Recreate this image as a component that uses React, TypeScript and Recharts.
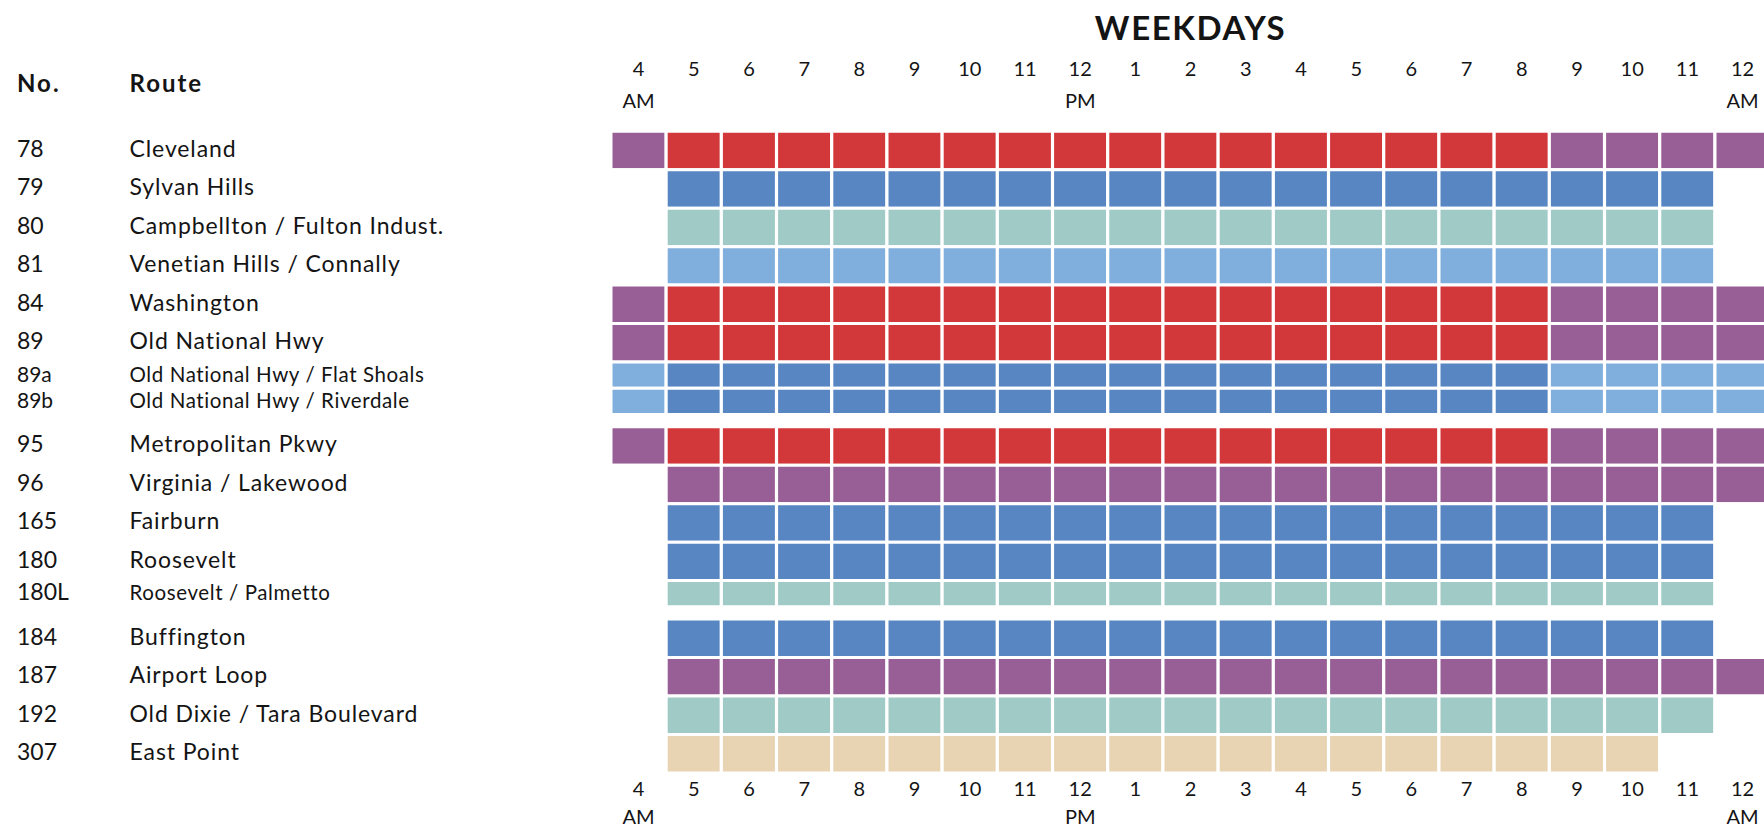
import React from 'react';
import { BarChart, Bar, XAxis, YAxis, Cell } from 'recharts';

// hour slots across the top / bottom, 4 AM to 12 AM
const hours = ['4', '5', '6', '7', '8', '9', '10', '11', '12', '1', '2', '3', '4', '5', '6', '7', '8', '9', '10', '11', '12'];
const periods = ['AM', '', '', '', '', '', '', '', 'PM', '', '', '', '', '', '', '', '', '', '', '', 'AM'];

const routeNumbers = ['78', '79', '80', '81', '84', '89', '89a', '89b', '95', '96', '165', '180', '180L', '184', '187', '192', '307'];
const routeNames = [
  'Cleveland',
  'Sylvan Hills',
  'Campbellton / Fulton Indust.',
  'Venetian Hills / Connally',
  'Washington',
  'Old National Hwy',
  'Old National Hwy / Flat Shoals',
  'Old National Hwy / Riverdale',
  'Metropolitan Pkwy',
  'Virginia / Lakewood',
  'Fairburn',
  'Roosevelt',
  'Roosevelt / Palmetto',
  'Buffington',
  'Airport Loop',
  'Old Dixie / Tara Boulevard',
  'East Point',
];

// service level for each hour slot, one letter per slot ('.' = no service)
const service = [
  'PRRRRRRRRRRRRRRRRPPPP',
  '.BBBBBBBBBBBBBBBBBBB.',
  '.TTTTTTTTTTTTTTTTTTT.',
  '.LLLLLLLLLLLLLLLLLLL.',
  'PRRRRRRRRRRRRRRRRPPPP',
  'PRRRRRRRRRRRRRRRRPPPP',
  'LBBBBBBBBBBBBBBBBLLLL',
  'LBBBBBBBBBBBBBBBBLLLL',
  'PRRRRRRRRRRRRRRRRPPPP',
  '.PPPPPPPPPPPPPPPPPPPP',
  '.BBBBBBBBBBBBBBBBBBB.',
  '.BBBBBBBBBBBBBBBBBBB.',
  '.TTTTTTTTTTTTTTTTTTT.',
  '.BBBBBBBBBBBBBBBBBBB.',
  '.PPPPPPPPPPPPPPPPPPPP',
  '.TTTTTTTTTTTTTTTTTTT.',
  '.SSSSSSSSSSSSSSSSSS..',
];

const levelColors: Record<string, string> = {
  R: '#D2373A',
  P: '#985F96',
  B: '#5786C3',
  L: '#80AEDD',
  T: '#A0CAC5',
  S: '#E8D3B3',
};

// layout: sub-routes get a thinner row, some rows have extra space after them
const thinRows = ['89a', '89b', '180L'];
const smallNumbers = ['89a', '89b'];
const spaceAfter = ['89b', '180L'];
const THIN = 0.68;
const SPACER = 0.32;

const W = 1764;
const H = 828;
const PLOT_LEFT = 611;
const TOP_AXIS = 131.2;
const BOTTOM_AXIS = 55;
const FONT = 'Lato, "Open Sans", sans-serif';
const INK = '#141414';

type Seg = { key: string; route: number; size: number; center: number };

const segments: Seg[] = [];
let acc = 0;
routeNumbers.forEach((no, i) => {
  const size = thinRows.includes(no) ? THIN : 1;
  segments.push({ key: `r${i}`, route: i, size, center: acc + size / 2 });
  acc += size;
  if (spaceAfter.includes(no)) {
    segments.push({ key: `gap${i}`, route: -1, size: SPACER, center: acc + SPACER / 2 });
    acc += SPACER;
  }
});
const TOTAL = acc;
const routeSegs = segments.filter((s) => s.route >= 0);

const data = hours.map((_, slot) => {
  const row: Record<string, number> = { slot };
  segments.forEach((s) => {
    row[s.key] = s.size;
  });
  return row;
});

const HourTick = (props: any) => {
  const { x, y, payload, top } = props;
  const i = payload.index ?? payload.value;
  const numY = top ? y - 55.5 : y + 22.7;
  const perY = top ? y - 23.5 : y + 51;
  return (
    <g>
      <text x={x} y={numY} textAnchor="middle" fontSize={20} fontFamily={FONT} fill={INK}>
        {hours[i]}
      </text>
      {periods[i] ? (
        <text x={x} y={perY} textAnchor="middle" fontSize={20} fontFamily={FONT} fill={INK}>
          {periods[i]}
        </text>
      ) : null}
    </g>
  );
};

const RouteTick = (props: any) => {
  const { y, payload } = props;
  const seg = routeSegs.find((s) => Math.abs(s.center - payload.value) < 1e-6);
  if (!seg) return null;
  const no = routeNumbers[seg.route];
  const thin = thinRows.includes(no);
  const numSize = smallNumbers.includes(no) ? 21 : 23;
  const nameSize = thin ? 20.5 : 23;
  return (
    <g fontFamily={FONT} fill={INK}>
      <text x={17} y={y + 6.5} fontSize={numSize}>
        {no}
      </text>
      <text x={129.5} y={y + 6.5} fontSize={nameSize} letterSpacing={thin ? 0.6 : 0.9}>
        {routeNames[seg.route]}
      </text>
    </g>
  );
};

export default function App() {
  const plotWidth = 21 * 55.2;
  return (
    <div style={{ position: 'absolute', left: 0, top: 0, width: W, height: H, overflow: 'hidden', background: '#fff' }}>
      <BarChart
        width={W}
        height={H}
        data={data}
        margin={{ top: 0, right: W - PLOT_LEFT - plotWidth, bottom: 0, left: 0 }}
        barCategoryGap={0}
        barGap={0}
      >
        <XAxis
          xAxisId="top"
          orientation="top"
          dataKey="slot"
          height={TOP_AXIS}
          axisLine={false}
          tickLine={false}
          tickSize={0}
          tickMargin={0}
          interval={0}
          tick={(p: any) => <HourTick {...p} top />}
        />
        <XAxis
          xAxisId="bottom"
          orientation="bottom"
          dataKey="slot"
          height={BOTTOM_AXIS}
          axisLine={false}
          tickLine={false}
          tickSize={0}
          tickMargin={0}
          interval={0}
          tick={(p: any) => <HourTick {...p} />}
        />
        <YAxis
          type="number"
          domain={[0, TOTAL]}
          reversed
          width={PLOT_LEFT}
          ticks={routeSegs.map((s) => s.center)}
          interval={0}
          axisLine={false}
          tickLine={false}
          tickSize={0}
          tickMargin={0}
          tick={(p: any) => <RouteTick {...p} />}
        />
        {segments.map((seg) => (
          <Bar
            key={seg.key}
            dataKey={seg.key}
            stackId="grid"
            xAxisId="bottom"
            isAnimationActive={false}
            stroke={seg.route < 0 ? 'none' : '#ffffff'}
            strokeWidth={3}
          >
            {hours.map((_, slot) => {
              const level = seg.route < 0 ? '.' : service[seg.route][slot];
              return <Cell key={slot} fill={levelColors[level] ?? 'none'} />;
            })}
          </Bar>
        ))}
      </BarChart>
      <svg width={W} height={H} style={{ position: 'absolute', left: 0, top: 0, pointerEvents: 'none' }}>
        <text
          x={PLOT_LEFT + plotWidth / 2}
          y={40}
          textAnchor="middle"
          fontFamily={FONT}
          fontWeight={700}
          fontSize={33}
          letterSpacing={1.6}
          fill={INK}
        >
          WEEKDAYS
        </text>
        <text x={17} y={92} fontFamily={FONT} fontWeight={700} fontSize={24} letterSpacing={2} fill={INK}>
          No.
        </text>
        <text x={129.5} y={92} fontFamily={FONT} fontWeight={700} fontSize={24} letterSpacing={2} fill={INK}>
          Route
        </text>
      </svg>
    </div>
  );
}
